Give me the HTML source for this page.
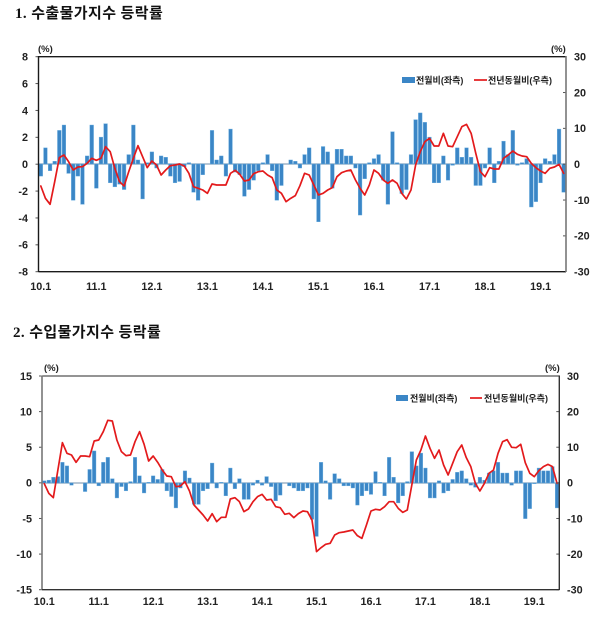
<!DOCTYPE html>
<html>
<head>
<meta charset="utf-8">
<style>
  html,body{margin:0;padding:0;background:#fff;}
  body{width:600px;height:626px;overflow:hidden;}
  svg{display:block;}
  .t{font-family:"Liberation Sans","Noto Sans CJK KR",sans-serif;font-weight:700;font-size:10.8px;fill:#222;}
  .ttl{font-family:"Liberation Serif","Noto Sans CJK KR",sans-serif;font-weight:700;font-size:15px;fill:#111;letter-spacing:0.4px;}
  .lg{font-family:"Liberation Sans","Noto Sans CJK KR",sans-serif;font-weight:700;font-size:9px;fill:#222;}
</style>
</head>
<body>
<svg id="s" width="600" height="626" viewBox="0 0 600 626" xmlns="http://www.w3.org/2000/svg">
  <!-- Titles -->
  <text class="ttl" x="15" y="18">1. 수출물가지수 등락률</text>
  <text class="ttl" x="13" y="337">2. 수입물가지수 등락률</text>

  <!-- ===== Chart 1 ===== -->
  <text class="t" x="38" y="52" style="font-size:9.5px">(%)</text>
  <text class="t" x="551" y="52" style="font-size:9.5px">(%)</text>
  <g id="c1"></g>
  <line x1="38.5" y1="56.7" x2="566" y2="56.7" stroke="#1a1a1a" stroke-width="1.3"/>
  <line x1="38.5" y1="56" x2="38.5" y2="272" stroke="#1a1a1a" stroke-width="1.4"/>
  <line x1="38.5" y1="271.7" x2="566" y2="271.7" stroke="#1a1a1a" stroke-width="1.4"/>
  <line x1="566" y1="56" x2="566" y2="272" stroke="#777" stroke-width="1.6"/>
  <!-- legend 1 -->
  <rect x="402" y="77" width="13" height="6" fill="#3b86c6"/>
  <text class="lg" x="416" y="83.5">전월비(좌측)</text>
  <line x1="474" y1="80" x2="487" y2="80" stroke="#e31a1c" stroke-width="1.7"/>
  <text class="lg" x="488" y="83.5">전년동월비(우측)</text>

  <!-- ===== Chart 2 ===== -->
  <text class="t" x="44" y="371" style="font-size:9.5px">(%)</text>
  <text class="t" x="545" y="371" style="font-size:9.5px">(%)</text>
  <g id="c2"></g>
  <line x1="42" y1="376" x2="559.3" y2="376" stroke="#555" stroke-width="1.3"/>
  <line x1="42" y1="375.5" x2="42" y2="590" stroke="#777" stroke-width="1.6"/>
  <line x1="42" y1="589.7" x2="559.3" y2="589.7" stroke="#333" stroke-width="1.4"/>
  <line x1="559.3" y1="375.5" x2="559.3" y2="590" stroke="#333" stroke-width="1.4"/>
  <!-- legend 2 -->
  <rect x="396" y="395" width="12" height="6" fill="#3b86c6"/>
  <text class="lg" x="410" y="401.5">전월비(좌측)</text>
  <line x1="470" y1="398" x2="482" y2="398" stroke="#e31a1c" stroke-width="1.7"/>
  <text class="lg" x="484" y="401.5">전년동월비(우측)</text>
</svg>
<script>
(function(){
  var NS="http://www.w3.org/2000/svg";
  function el(parent,name,attrs,txt){
    var e=document.createElementNS(NS,name);
    for(var k in attrs){e.setAttribute(k,attrs[k]);}
    if(txt!==undefined){e.textContent=txt;}
    parent.appendChild(e);return e;
  }
  var bars1=[-0.9,1.2,-0.5,0.2,2.5,2.9,-0.7,-2.7,-0.9,-3.0,0.6,2.9,-1.8,2.0,3.0,-1.4,-1.7,-1.5,-1.9,0.7,
    2.9,0.3,-2.6,0.1,0.9,-0.3,0.6,0.5,-0.9,-1.4,-1.3,-0.2,0.1,-2.1,-2.7,-0.8,0.0,2.5,0.3,0.6,
    -0.9,2.6,-0.6,-0.8,-2.4,-1.9,-1.2,-0.5,0.1,0.7,-0.5,-2.7,-1.6,0.0,0.3,0.2,-0.3,0.7,1.2,-2.6,
    -4.3,1.3,0.9,-1.8,1.1,1.1,0.6,0.6,-0.3,-3.8,-1.1,0.1,0.4,0.7,-1.2,-3.0,2.4,0.1,-2.2,-1.9,
    0.7,3.3,3.8,3.1,2.0,-1.4,-1.4,0.6,-1.2,-0.1,1.2,0.5,1.2,0.5,-1.6,-1.6,-0.3,1.2,-1.4,0.2,
    1.7,0.7,2.5,-0.1,0.1,0.4,-3.2,-2.8,-1.4,0.4,0.2,0.7,2.6,-2.1];
  var line1=[243,280,298,230,158,150,170,195,186,185,175,160,166,160,125,140,190,230,243,200,160,122,155,188,168,180,210,195,182,180,177,183,205,245,250,255,265,237,240,240,240,205,196,208,228,225,206,200,198,210,218,255,265,290,280,272,242,
    205,210,240,270,265,255,248,215,203,198,195,225,250,270,240,195,205,225,235,225,235,265,282,255,180,140,110,100,123,123,85,123,125,95,65,58,85,145,200,215,188,192,192,160,150,138,148,153,155,175,188,198,205,190,186,178,205];
  var bars2=[0.3,0.4,0.8,0.9,2.9,2.4,-0.3,0.0,0.0,-1.2,1.9,4.5,-0.4,2.9,3.6,0.6,-2.1,-0.5,-1.1,0.2,
    3.6,1.0,-1.4,0.1,1.0,0.5,1.9,-1.1,-1.9,-3.5,-0.7,1.7,0.7,-3.0,-3.0,-1.1,-0.8,2.8,-0.7,0.1,
    -1.8,2.1,-0.8,0.6,-2.3,-2.3,-0.3,0.4,-0.3,0.9,-0.5,-2.5,-1.7,0.0,-0.4,-0.7,-1.1,-1.1,-0.7,-5.1,
    -7.5,2.9,0.3,-2.3,1.3,0.6,-0.4,-0.4,-0.7,-3.1,-1.8,-1.1,-1.6,1.6,0.1,-1.8,3.6,0.8,-2.8,-1.8,
    0.2,4.4,2.4,4.2,2.1,-2.1,-2.1,0.3,-1.4,-1.1,0.5,1.5,1.7,0.6,-0.3,-0.6,0.8,0.4,1.4,1.7,
    2.9,1.4,1.4,-0.3,1.7,1.7,-5.0,-3.6,-0.1,2.1,1.7,1.7,2.3,-3.5];
  var line2=[236,265,278,195,113,145,150,172,153,153,155,108,105,80,46,48,105,140,152,150,110,80,118,168,153,172,195,213,215,245,243,230,258,300,315,330,348,326,350,337,337,282,278,290,320,312,290,275,268,285,283,305,308,328,325,338,326,
    318,320,345,440,428,418,415,390,383,381,378,375,392,400,360,318,313,315,305,290,290,310,322,315,240,165,135,93,130,160,135,180,210,175,140,120,158,185,235,258,235,205,195,145,110,104,127,128,118,173,205,215,197,185,178,185,235];

  function chart(g,cfg){
    var n=114, step=cfg.w/n;
    el(g,"line",{x1:cfg.x0,y1:cfg.zero,x2:cfg.x0+cfg.w,y2:cfg.zero,stroke:"#9fb4c6","stroke-width":1.6});
    for(var i=0;i<n;i++){
      var cx=cfg.x0+(i+0.5)*step, v=cfg.bars[i];
      var h=Math.abs(v)*cfg.s; if(h<0.6) continue;
      var y=v>=0?cfg.zero-h:cfg.zero;
      el(g,"rect",{x:(cx-cfg.bw/2).toFixed(2),y:y.toFixed(2),width:cfg.bw,height:h.toFixed(2),fill:"#3b86c6",stroke:"#6aaee0","stroke-width":0.4});
    }
    var pts=[];
    for(var j=0;j<n;j++){
      var cx2=cfg.x0+(j+0.5)*step, yy=cfg.ly0+cfg.line[j]/3;
      pts.push(cx2.toFixed(2)+","+yy.toFixed(2));
    }
    el(g,"polyline",{points:pts.join(" "),fill:"none",stroke:"#e31a1c","stroke-width":1.7,"stroke-linejoin":"round","stroke-linecap":"round"});
    for(var k=0;k<cfg.lt.length;k++){
      var yv=cfg.top+k*(cfg.bot-cfg.top)/(cfg.lt.length-1);
      el(g,"text",{"class":"t",x:cfg.lx,y:(yv+3.8).toFixed(1),"text-anchor":"end"},cfg.lt[k]);
      el(g,"line",{x1:cfg.x0-3,y1:yv,x2:cfg.x0,y2:yv,stroke:"#555","stroke-width":1});
    }
    for(var m=0;m<cfg.rt.length;m++){
      var yr=cfg.top+m*(cfg.bot-cfg.top)/(cfg.rt.length-1);
      el(g,"text",{"class":"t",x:cfg.rx,y:(yr+3.8).toFixed(1)},cfg.rt[m]);
      el(g,"line",{x1:cfg.x0+cfg.w-3,y1:yr,x2:cfg.x0+cfg.w,y2:yr,stroke:"#555","stroke-width":1});
    }
    var yrs=["10.1","11.1","12.1","13.1","14.1","15.1","16.1","17.1","18.1","19.1"];
    for(var q=0;q<yrs.length;q++){
      var xl=cfg.x0+(q*12+0.5)*step;
      el(g,"text",{"class":"t",x:xl.toFixed(1),y:cfg.xly,"text-anchor":"middle"},yrs[q]);
    }
  }
  chart(document.getElementById("c1"),{
    x0:38.5,w:527.5,zero:164,s:13.44,bw:3.7,bars:bars1,line:line1,ly0:105,
    top:56.7,bot:271.7,lt:["8","6","4","2","0","-2","-4","-6","-8"],lx:28,
    rt:["30","20","10","0","-10","-20","-30"],rx:574,xly:290
  });
  chart(document.getElementById("c2"),{
    x0:42,w:517.3,zero:483,s:7.123,bw:3.6,bars:bars2,line:line2,ly0:405,
    top:376,bot:589.7,lt:["15","10","5","0","-5","-10","-15"],lx:32,
    rt:["30","20","10","0","-10","-20","-30"],rx:567,xly:605
  });
})();
</script>
</body>
</html>
